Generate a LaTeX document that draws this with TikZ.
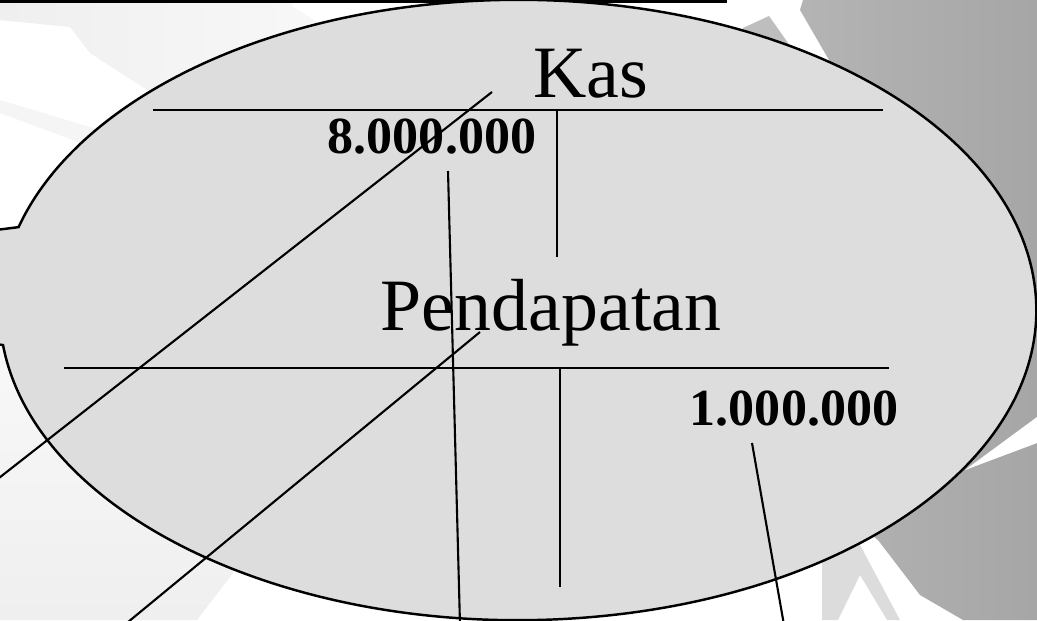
\documentclass[tikz,border=0pt]{standalone}
\usepackage{fontspec}
\setmainfont{Liberation Serif}
\usetikzlibrary{calc}
\definecolor{oval}{HTML}{DDDDDD}
\definecolor{pucat}{HTML}{EFEFEF}
\definecolor{pucatB}{HTML}{F8F8F8}
\definecolor{gelapA}{HTML}{BABABA}
\definecolor{gelapB}{HTML}{A6A6A6}
\definecolor{abu}{HTML}{BEBEBE}
\definecolor{abuT}{HTML}{DCDCDC}
\tikzset{
    judul/.style={font=\fontsize{21}{25}\selectfont, anchor=base, inner sep=0pt},
    angka/.style={font=\fontsize{14.8}{18}\selectfont\bfseries, anchor=base, inner sep=0pt},
    garis/.style={line width=0.6pt},
}
\begin{document}
\begin{tikzpicture}[x=0.01cm,y=0.01cm]
    \useasboundingbox (0,0) rectangle (1037,620);
    \clip (0,0) rectangle (1037,620);
    \fill[white] (0,0) rectangle (1037,620);
    % latar belakang
    \shade[left color=pucat, right color=pucatB]
        (0,620) -- (290,620) -- (293,613) -- (330,590) -- (160,510)
        -- (147,530) -- (90,567) -- (70,593) -- (0,600) -- cycle;
    \fill[pucat!60!white] (0,520) -- (100,490) -- (100,470) -- (0,507) -- cycle;
    \shade[top color=pucatB, bottom color=pucat]
        (0,275) -- (0,0) -- (197,0) -- (233,47) -- (240,220) -- cycle;
    \shade[left color=gelapA, right color=gelapB]
        (803,620) -- (1037,620) -- (1037,0) -- (963,0) -- (920,25)
        -- (878,80) -- (700,220) -- (829,560) -- (800,610) -- cycle;
    \fill[abu] (743,592) -- (769,604) -- (800,560) -- (750,560) -- cycle;
    \fill[white] (965,150) -- (1037,203) -- (1037,177) -- cycle;
    \fill[abuT] (822,60) -- (860,75) -- (900,0) -- (887,0) -- (860,45)
        -- (838,0) -- (822,0) -- cycle;
    \draw[line width=0.9pt] (0,619) -- (727,619);

    % balon
    \coordinate (ctr) at (518,310);
    \path (ctr) ++(186.5:5.18cm and 3.10cm) coordinate (wB);
    \coordinate (tip) at (-400,340);
    \filldraw[fill=oval, draw=black, line width=0.7pt]
        (wB) arc[start angle=186.5, end angle=524.5, x radius=5.18cm, y radius=3.10cm]
        -- (tip) -- cycle;

    % akun Kas
    \node[judul] (kas) at (591,523) {Kas};
    \node[angka] (kasD) at (432,467) {8.000.000};
    \coordinate (kasL) at (153,510);
    \coordinate (kasR) at (883,510);
    \coordinate (kasT) at (557,510);
    \coordinate (kasB) at (557,363);
    \draw[garis] (kasL) -- (kasR);
    \draw[garis] (kasT) -- (kasB);

    % akun Pendapatan
    \node[judul] (pend) at (551,290) {Pendapatan};
    \node[angka] (pendK) at (794,195) {1.000.000};
    \coordinate (pendL) at (64,252);
    \coordinate (pendR) at (889,252);
    \coordinate (pendT) at (560,252);
    \coordinate (pendB) at (560,33);
    \draw[garis] (pendL) -- (pendR);
    \draw[garis] (pendT) -- (pendB);

    % garis penunjuk
    \coordinate (g1a) at (492,528);
    \coordinate (g1b) at (-10,135);
    \coordinate (g2a) at (480,288);
    \coordinate (g2b) at (122,-7);
    \coordinate (g3a) at (448,449);
    \coordinate (g3b) at (460,-5);
    \coordinate (g4a) at (752,177);
    \coordinate (g4b) at (784,-5);
    \draw[garis] (g1a) -- (g1b);
    \draw[garis] (g2a) -- (g2b);
    \draw[garis] (g3a) -- (g3b);
    \draw[garis] (g4a) -- (g4b);
\end{tikzpicture}
\end{document}
